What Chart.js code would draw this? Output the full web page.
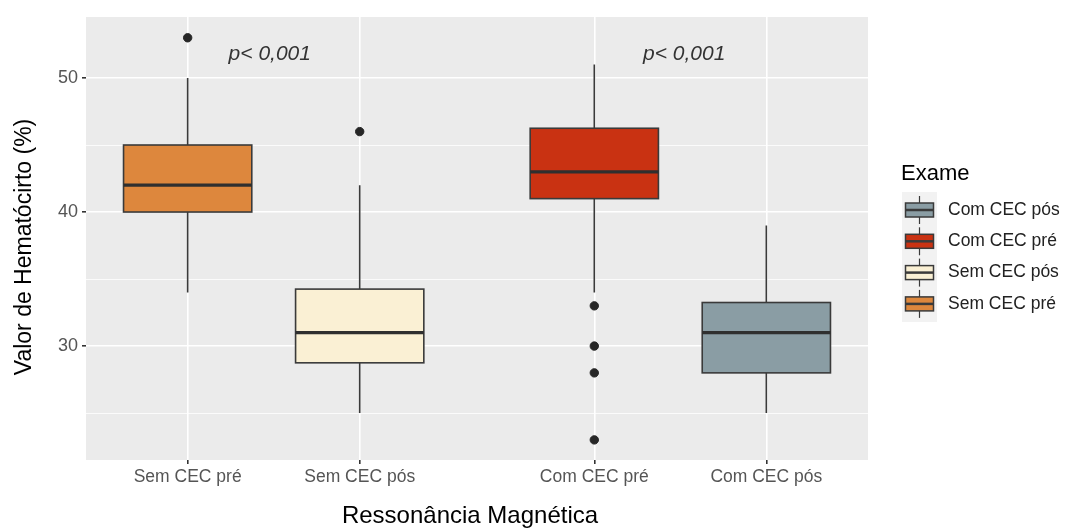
<!DOCTYPE html>
<html>
<head>
<meta charset="utf-8">
<script src="https://cdn.jsdelivr.net/npm/chart.js@4.4.1/dist/chart.umd.min.js"></script>
<style>
  html, body { margin: 0; padding: 0; background: #fff; }
  #wrap { width: 1065px; height: 529px; }
</style>
</head>
<body>
<div id="wrap"><canvas id="chart" width="1065" height="529"></canvas></div>
<script>
// categories and box stats
var categories = ["Sem CEC pré", "Sem CEC pós", "Com CEC pré", "Com CEC pós"];
var positions = [1.3, 3.5, 6.5, 8.7];
var whiskerLow = [34, 25, 34, 25];
var q1 = [40, 28.75, 41, 28];
var median = [42, 31, 43, 31];
var q3 = [45, 34.25, 46.25, 33.25];
var whiskerHigh = [50, 42, 51, 39];
var outliers = [[53], [46], [33, 30, 28, 23], []];
var fillColors = ["#DD873D", "#FAF0D4", "#C93212", "#8A9DA4"];
var yTicks = [25, 30, 35, 40, 45, 50];
var pTexts = ["p< 0,001", "p< 0,001"];
var pX = [2.35, 7.65];
var pY = 51.8;
var xTitle = "Ressonância Magnética";
var yTitle = "Valor de Hematócirto (%)";
var legendTitle = "Exame";
var legendLabels = ["Com CEC pós", "Com CEC pré", "Sem CEC pós", "Sem CEC pré"];
var legendColors = ["#8A9DA4", "#C93212", "#FAF0D4", "#DD873D"];

var FONT = "'Liberation Sans', Arial, sans-serif";
var halfWidth = 0.82;

var outlierPoints = [];
for (var i = 0; i < outliers.length; i++) {
	for (var j = 0; j < outliers[i].length; j++) {
		outlierPoints.push({ x: positions[i], y: outliers[i][j] });
	}
}

var panelPlugin = {
	id: 'panel',
	beforeDraw: function(chart) {
		var a = chart.chartArea, ctx = chart.ctx;
		ctx.save();
		ctx.fillStyle = '#EBEBEB';
		ctx.fillRect(a.left, a.top, a.right - a.left, a.bottom - a.top);
		ctx.restore();
	},
	afterDatasetsDraw: function(chart) {
		var ctx = chart.ctx;
		var xs = chart.scales.x, ys = chart.scales.y;
		ctx.save();
		for (var i = 0; i < categories.length; i++) {
			var cx = xs.getPixelForValue(positions[i]);
			var l = xs.getPixelForValue(positions[i] - halfWidth);
			var r = xs.getPixelForValue(positions[i] + halfWidth);
			var yq1 = ys.getPixelForValue(q1[i]);
			var yq3 = ys.getPixelForValue(q3[i]);
			var ymed = ys.getPixelForValue(median[i]);
			// whiskers
			ctx.strokeStyle = '#3a3a3a';
			ctx.lineWidth = 1.6;
			ctx.beginPath();
			ctx.moveTo(cx, ys.getPixelForValue(whiskerHigh[i]));
			ctx.lineTo(cx, yq3);
			ctx.moveTo(cx, yq1);
			ctx.lineTo(cx, ys.getPixelForValue(whiskerLow[i]));
			ctx.stroke();
			// box
			ctx.fillStyle = fillColors[i];
			ctx.fillRect(l, yq3, r - l, yq1 - yq3);
			ctx.strokeRect(l, yq3, r - l, yq1 - yq3);
			// median
			ctx.lineWidth = 3.2;
			ctx.strokeStyle = '#2f2f2f';
			ctx.beginPath();
			ctx.moveTo(l, ymed);
			ctx.lineTo(r, ymed);
			ctx.stroke();
		}
		// p values
		ctx.fillStyle = '#333333';
		ctx.font = 'italic 21px ' + FONT;
		ctx.textAlign = 'center';
		ctx.textBaseline = 'middle';
		for (var k = 0; k < pTexts.length; k++) {
			ctx.fillText(pTexts[k], xs.getPixelForValue(pX[k]), ys.getPixelForValue(pY));
		}
		ctx.restore();
	},
	afterDraw: function(chart) {
		var ctx = chart.ctx;
		ctx.save();
		// axis titles
		ctx.fillStyle = '#000';
		ctx.textAlign = 'center';
		ctx.textBaseline = 'middle';
		ctx.font = '24px ' + FONT;
		ctx.fillText(xTitle, 470, 516);
		ctx.save();
		ctx.translate(25, 247);
		ctx.rotate(-Math.PI / 2);
		ctx.font = '23px ' + FONT;
		ctx.fillText(yTitle, 0, 0);
		ctx.restore();
		// legend
		ctx.font = '22px ' + FONT;
		ctx.textAlign = 'left';
		ctx.fillText(legendTitle, 901, 174);
		ctx.fillStyle = '#F2F2F2';
		ctx.fillRect(902, 192, 35, 130);
		for (var i = 0; i < legendLabels.length; i++) {
			var cy = 210 + i * 31.3;
			ctx.strokeStyle = '#3a3a3a';
			ctx.lineWidth = 1.2;
			ctx.beginPath();
			ctx.moveTo(919.5, cy - 14);
			ctx.lineTo(919.5, cy + 14);
			ctx.stroke();
			ctx.fillStyle = legendColors[i];
			ctx.fillRect(905.5, cy - 7, 28, 14);
			ctx.lineWidth = 1.5;
			ctx.strokeRect(905.5, cy - 7, 28, 14);
			ctx.lineWidth = 2.5;
			ctx.beginPath();
			ctx.moveTo(905.5, cy);
			ctx.lineTo(933.5, cy);
			ctx.stroke();
			ctx.fillStyle = '#222';
			ctx.font = '17.5px ' + FONT;
			ctx.fillText(legendLabels[i], 948, cy);
		}
		ctx.restore();
	}
};

var chart = new Chart(document.getElementById('chart'), {
	type: 'scatter',
	data: {
		datasets: [{
			label: 'outliers',
			data: outlierPoints,
			backgroundColor: '#262626',
			borderColor: '#262626',
			pointRadius: 4.2,
			pointHoverRadius: 4.2
		}]
	},
	options: {
		responsive: false,
		animation: false,
		layout: { padding: { top: 17, right: 197, left: 0, bottom: 0 } },
		plugins: { legend: { display: false }, tooltip: { enabled: false } },
		scales: {
			x: {
				type: 'linear',
				min: 0,
				max: 10,
				afterBuildTicks: function(s) { s.ticks = positions.map(function(v){ return { value: v }; }); },
				afterFit: function(s) { s.height = 69; },
				border: { display: false },
				grid: { color: '#FFFFFF', lineWidth: 1.6, tickColor: '#333333', tickLength: 4 },
				ticks: {
					autoSkip: false,
					maxRotation: 0,
					padding: 3,
					color: '#555555',
					font: { family: FONT, size: 17.5 },
					callback: function(v, i) { return categories[i]; }
				}
			},
			y: {
				type: 'linear',
				min: 21.5,
				max: 54.55,
				afterBuildTicks: function(s) { s.ticks = yTicks.map(function(v){ return { value: v }; }); },
				afterFit: function(s) { s.width = 86; },
				border: { display: false },
				grid: {
					color: '#FFFFFF',
					lineWidth: function(c) { return c.tick && c.tick.value % 10 === 0 ? 1.6 : 0.8; },
					tickColor: function(c) { return c.tick && c.tick.value % 10 === 0 ? '#333333' : 'rgba(0,0,0,0)'; },
					tickLength: 4
				},
				ticks: {
					padding: 4,
					color: '#555555',
					font: { family: FONT, size: 18 },
					callback: function(v) { return v % 10 === 0 ? v : ''; }
				}
			}
		}
	},
	plugins: [panelPlugin]
});
</script>
</body>
</html>
